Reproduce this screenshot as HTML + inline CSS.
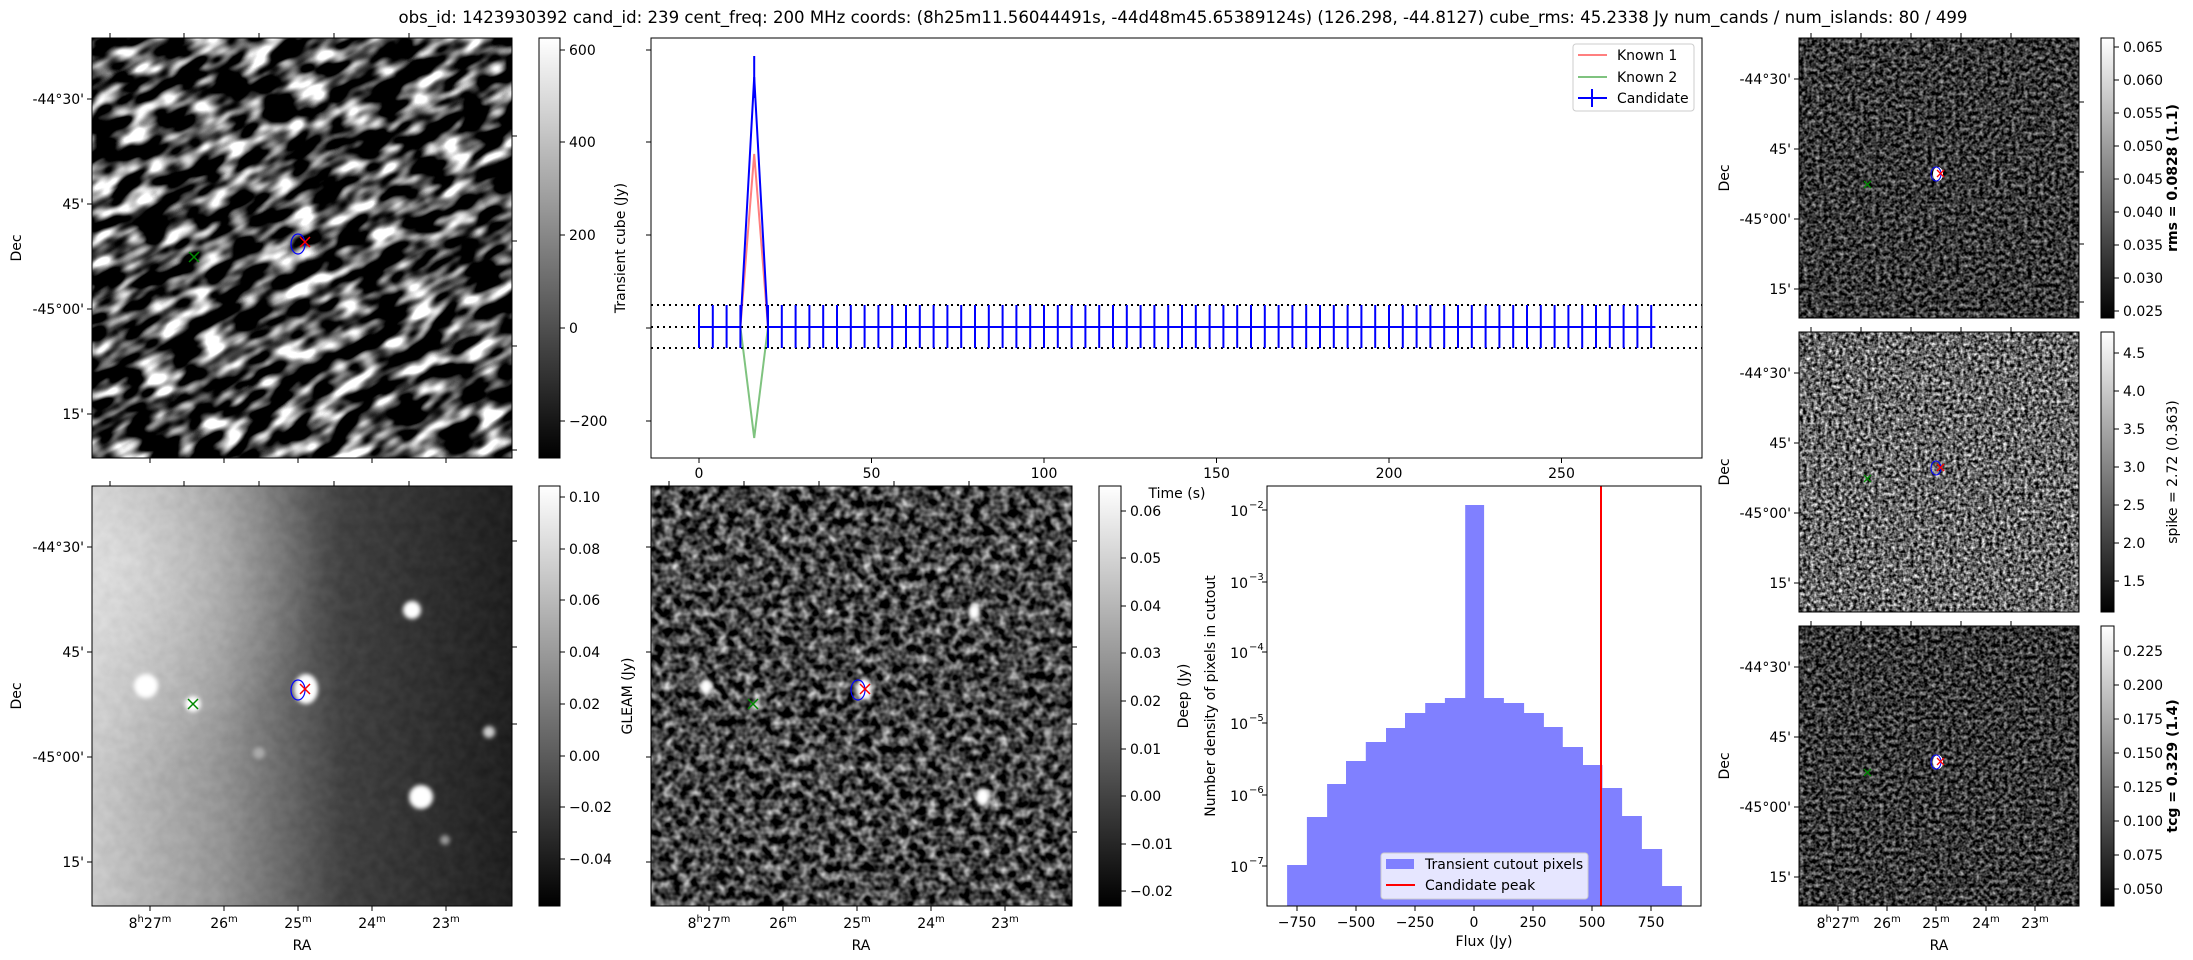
<!DOCTYPE html>
<html><head><meta charset="utf-8"><style>html,body{margin:0;padding:0;background:#fff}svg{display:block}text{font-family:"DejaVu Sans","Liberation Sans",sans-serif;fill:#000}</style></head>
<body>
<svg width="2193" height="960" viewBox="0 0 2193 960" xmlns="http://www.w3.org/2000/svg" font-size="14">
<defs>
<linearGradient id="cb" x1="0" y1="0" x2="0" y2="1"><stop offset="0" stop-color="#fff"/><stop offset="1" stop-color="#000"/></linearGradient>
<filter id="fA" x="0" y="0" width="100%" height="100%" color-interpolation-filters="sRGB"><feTurbulence type="fractalNoise" baseFrequency="0.03 0.065" numOctaves="2" seed="4"/><feColorMatrix type="matrix" values="1 0 0 0 0 1 0 0 0 0 1 0 0 0 0 0 0 0 0 1"/><feComponentTransfer><feFuncR type="linear" slope="3.6" intercept="-1.55"/><feFuncG type="linear" slope="3.6" intercept="-1.55"/><feFuncB type="linear" slope="3.6" intercept="-1.55"/></feComponentTransfer></filter>
<filter id="fN" x="0" y="0" width="100%" height="100%" color-interpolation-filters="sRGB"><feTurbulence type="fractalNoise" baseFrequency="0.09" numOctaves="2" seed="7"/><feColorMatrix type="matrix" values="1 0 0 0 0 1 0 0 0 0 1 0 0 0 0 0 0 0 0 1"/></filter>
<filter id="fD" x="0" y="0" width="100%" height="100%" color-interpolation-filters="sRGB"><feTurbulence type="fractalNoise" baseFrequency="0.11" numOctaves="2" seed="7"/><feColorMatrix type="matrix" values="1 0 0 0 0 1 0 0 0 0 1 0 0 0 0 0 0 0 0 1"/><feComponentTransfer><feFuncR type="linear" slope="1.5" intercept="-0.48"/><feFuncG type="linear" slope="1.5" intercept="-0.48"/><feFuncB type="linear" slope="1.5" intercept="-0.48"/></feComponentTransfer></filter>
<filter id="fR1" x="0" y="0" width="100%" height="100%" color-interpolation-filters="sRGB"><feTurbulence type="fractalNoise" baseFrequency="0.25" numOctaves="2" seed="11"/><feColorMatrix type="matrix" values="1 0 0 0 0 1 0 0 0 0 1 0 0 0 0 0 0 0 0 1"/><feComponentTransfer><feFuncR type="linear" slope="1.2" intercept="-0.38"/><feFuncG type="linear" slope="1.2" intercept="-0.38"/><feFuncB type="linear" slope="1.2" intercept="-0.38"/></feComponentTransfer></filter>
<filter id="fR2" x="0" y="0" width="100%" height="100%" color-interpolation-filters="sRGB"><feTurbulence type="fractalNoise" baseFrequency="0.28" numOctaves="2" seed="13"/><feColorMatrix type="matrix" values="1 0 0 0 0 1 0 0 0 0 1 0 0 0 0 0 0 0 0 1"/><feComponentTransfer><feFuncR type="linear" slope="1.7" intercept="-0.45"/><feFuncG type="linear" slope="1.7" intercept="-0.45"/><feFuncB type="linear" slope="1.7" intercept="-0.45"/></feComponentTransfer></filter>
<filter id="blur"><feGaussianBlur stdDeviation="2"/></filter>
<linearGradient id="gl" x1="0" y1="0" x2="1" y2="0"><stop offset="0" stop-color="#d0d0d0"/><stop offset="0.3" stop-color="#989898"/><stop offset="0.6" stop-color="#3c3c3c"/><stop offset="1" stop-color="#181818"/></linearGradient>
<radialGradient id="gr" cx="0.05" cy="0.2" r="0.5"><stop offset="0" stop-color="#fff" stop-opacity="0.5"/><stop offset="1" stop-color="#fff" stop-opacity="0"/></radialGradient>
<clipPath id="cA"><rect x="92" y="38" width="420" height="420"/></clipPath>
</defs>

<text x="1183" y="23" font-size="17" text-anchor="middle" textLength="1569" lengthAdjust="spacingAndGlyphs">obs_id: 1423930392 cand_id: 239 cent_freq: 200 MHz coords: (8h25m11.56044491s, -44d48m45.65389124s) (126.298, -44.8127) cube_rms: 45.2338 Jy num_cands / num_islands: 80 / 499</text>

<g clip-path="url(#cA)"><rect x="92" y="38" width="420" height="420" fill="#333"/><rect x="-150" y="-200" width="900" height="900" filter="url(#fA)" transform="rotate(-28 302 248)"/></g>
<rect x="92" y="38" width="420" height="420" fill="none" stroke="#000"/>
<ellipse cx="298" cy="244" rx="7" ry="10" fill="none" stroke="#00f" stroke-width="1.2"/>
<g stroke="#f00" stroke-width="1.5"><line x1="300" y1="237" x2="310" y2="247"/><line x1="310" y1="237" x2="300" y2="247"/></g>
<g stroke="#080" stroke-width="1.5"><line x1="189" y1="252" x2="199" y2="262"/><line x1="199" y1="252" x2="189" y2="262"/></g>
<g stroke="#000"><line x1="110" y1="38" x2="110" y2="33"/><line x1="184" y1="38" x2="184" y2="33"/><line x1="259" y1="38" x2="259" y2="33"/><line x1="334" y1="38" x2="334" y2="33"/><line x1="409" y1="38" x2="409" y2="33"/>
<line x1="92" y1="99" x2="87" y2="99"/><line x1="92" y1="204" x2="87" y2="204"/><line x1="92" y1="309" x2="87" y2="309"/><line x1="92" y1="414" x2="87" y2="414"/>
<line x1="512" y1="136" x2="517" y2="136"/><line x1="512" y1="241" x2="517" y2="241"/><line x1="512" y1="346" x2="517" y2="346"/><line x1="512" y1="450" x2="517" y2="450"/>
<line x1="150" y1="458" x2="150" y2="463"/><line x1="224" y1="458" x2="224" y2="463"/><line x1="298" y1="458" x2="298" y2="463"/><line x1="372" y1="458" x2="372" y2="463"/><line x1="446" y1="458" x2="446" y2="463"/></g>
<g text-anchor="end"><text x="84" y="104">-44°30'</text><text x="84" y="209">45'</text><text x="84" y="314">-45°00'</text><text x="84" y="419">15'</text></g>
<text transform="translate(21 248) rotate(-90)" text-anchor="middle">Dec</text>

<rect x="539" y="38" width="21" height="420" fill="url(#cb)" stroke="#000"/>
<g stroke="#000"><line x1="560" y1="50" x2="565" y2="50"/><line x1="560" y1="142" x2="565" y2="142"/><line x1="560" y1="235" x2="565" y2="235"/><line x1="560" y1="328" x2="565" y2="328"/><line x1="560" y1="421" x2="565" y2="421"/></g>
<text x="569" y="55">600</text><text x="569" y="147">400</text><text x="569" y="240">200</text><text x="569" y="333">0</text><text x="569" y="426">−200</text>

<rect x="651" y="38" width="1051" height="420" fill="none" stroke="#000"/>
<g stroke="#000"><line x1="651" y1="50" x2="646" y2="50"/><line x1="651" y1="142" x2="646" y2="142"/><line x1="651" y1="235" x2="646" y2="235"/><line x1="651" y1="328" x2="646" y2="328"/><line x1="651" y1="421" x2="646" y2="421"/>
<line x1="699" y1="458" x2="699" y2="463"/><line x1="871.5" y1="458" x2="871.5" y2="463"/><line x1="1044" y1="458" x2="1044" y2="463"/><line x1="1216.5" y1="458" x2="1216.5" y2="463"/><line x1="1389" y1="458" x2="1389" y2="463"/><line x1="1561.5" y1="458" x2="1561.5" y2="463"/></g>
<g text-anchor="middle"><text x="699" y="478">0</text><text x="871.5" y="478">50</text><text x="1044" y="478">100</text><text x="1216.5" y="478">150</text><text x="1389" y="478">200</text><text x="1561.5" y="478">250</text></g>
<text x="1177" y="498" text-anchor="middle">Time (s)</text>
<text transform="translate(625 248) rotate(-90)" text-anchor="middle">Transient cube (Jy)</text>
<g stroke="#000" stroke-width="2" stroke-dasharray="2 4"><line x1="651" y1="305" x2="1702" y2="305"/><line x1="651" y1="327" x2="1702" y2="327"/><line x1="651" y1="348" x2="1702" y2="348"/></g>
<polyline points="699,327 740.4,327 754.2,154 768,327 1655.4,327" fill="none" stroke="#f00" stroke-opacity="0.5" stroke-width="2"/>
<polyline points="699,327 740.4,327 754.2,438 768,327 1655.4,327" fill="none" stroke="#080" stroke-opacity="0.5" stroke-width="2"/>
<polyline points="699,327 740.4,327 754.2,77 768,327 1655.4,327" fill="none" stroke="#00f" stroke-width="2"/>
<path stroke="#00f" stroke-width="2" d="M699 305V348M712.8 305V348M726.6 305V348M740.4 305V348M754.2 56V98M768 305V348M781.8 305V348M795.6 305V348M809.4 305V348M823.2 305V348M837 305V348M850.8 305V348M864.6 305V348M878.4 305V348M892.2 305V348M906 305V348M919.8 305V348M933.6 305V348M947.4 305V348M961.2 305V348M975 305V348M988.8 305V348M1002.6 305V348M1016.4 305V348M1030.2 305V348M1044 305V348M1057.8 305V348M1071.6 305V348M1085.4 305V348M1099.2 305V348M1113 305V348M1126.8 305V348M1140.6 305V348M1154.4 305V348M1168.2 305V348M1182 305V348M1195.8 305V348M1209.6 305V348M1223.4 305V348M1237.2 305V348M1251 305V348M1264.8 305V348M1278.6 305V348M1292.4 305V348M1306.2 305V348M1320 305V348M1333.8 305V348M1347.6 305V348M1361.4 305V348M1375.2 305V348M1389 305V348M1402.8 305V348M1416.6 305V348M1430.4 305V348M1444.2 305V348M1458 305V348M1471.8 305V348M1485.6 305V348M1499.4 305V348M1513.2 305V348M1527 305V348M1540.8 305V348M1554.6 305V348M1568.4 305V348M1582.2 305V348M1596 305V348M1609.8 305V348M1623.6 305V348M1637.4 305V348M1651.2 305V348"/>
<rect x="1573" y="44" width="121" height="67" rx="3" fill="#fff" fill-opacity="0.8" stroke="#ccc"/>
<line x1="1578" y1="55" x2="1607" y2="55" stroke="#f00" stroke-opacity="0.5" stroke-width="2"/>
<line x1="1578" y1="77" x2="1607" y2="77" stroke="#080" stroke-opacity="0.5" stroke-width="2"/>
<line x1="1578" y1="98" x2="1607" y2="98" stroke="#00f" stroke-width="2"/><line x1="1592" y1="89" x2="1592" y2="107" stroke="#00f" stroke-width="2"/>
<text x="1617" y="60">Known 1</text><text x="1617" y="82">Known 2</text><text x="1617" y="103">Candidate</text>

<rect x="92" y="486" width="420" height="420" fill="url(#gl)"/>
<rect x="92" y="486" width="420" height="420" fill="url(#gr)"/>
<rect x="92" y="486" width="420" height="420" filter="url(#fN)" opacity="0.07"/>
<g fill="#fff" filter="url(#blur)"><circle cx="146" cy="686" r="12"/><circle cx="193" cy="704" r="8"/><ellipse cx="306" cy="689" rx="12" ry="15"/><circle cx="412" cy="610" r="9"/><circle cx="421" cy="797" r="12"/><circle cx="489" cy="732" r="6" fill="#ccc"/><circle cx="259" cy="753" r="6" fill="#aaa"/><circle cx="445" cy="840" r="5" fill="#999"/></g>
<ellipse cx="298" cy="690" rx="7" ry="10" fill="none" stroke="#00f" stroke-width="1.2"/>
<g stroke="#f00" stroke-width="1.5"><line x1="300" y1="684" x2="310" y2="694"/><line x1="310" y1="684" x2="300" y2="694"/></g>
<g stroke="#080" stroke-width="1.5"><line x1="188" y1="699" x2="198" y2="709"/><line x1="198" y1="699" x2="188" y2="709"/></g>
<rect x="92" y="486" width="420" height="420" fill="none" stroke="#000"/>
<g stroke="#000"><line x1="110" y1="486" x2="110" y2="481"/><line x1="184" y1="486" x2="184" y2="481"/><line x1="259" y1="486" x2="259" y2="481"/><line x1="334" y1="486" x2="334" y2="481"/><line x1="409" y1="486" x2="409" y2="481"/>
<line x1="92" y1="547" x2="87" y2="547"/><line x1="92" y1="652" x2="87" y2="652"/><line x1="92" y1="757" x2="87" y2="757"/><line x1="92" y1="862" x2="87" y2="862"/>
<line x1="512" y1="541" x2="517" y2="541"/><line x1="512" y1="647" x2="517" y2="647"/><line x1="512" y1="724" x2="517" y2="724"/><line x1="512" y1="832" x2="517" y2="832"/>
<line x1="150" y1="906" x2="150" y2="911"/><line x1="224" y1="906" x2="224" y2="911"/><line x1="298" y1="906" x2="298" y2="911"/><line x1="372" y1="906" x2="372" y2="911"/><line x1="446" y1="906" x2="446" y2="911"/></g>
<g text-anchor="end"><text x="84" y="552">-44°30'</text><text x="84" y="657">45'</text><text x="84" y="762">-45°00'</text><text x="84" y="867">15'</text></g>
<text transform="translate(21 696) rotate(-90)" text-anchor="middle">Dec</text>
<g text-anchor="middle"><text x="150" y="928">8<tspan font-size="10" dy="-6">h</tspan><tspan dy="6">27</tspan><tspan font-size="10" dy="-6">m</tspan></text><text x="224" y="928">26<tspan font-size="10" dy="-6">m</tspan></text><text x="298" y="928">25<tspan font-size="10" dy="-6">m</tspan></text><text x="372" y="928">24<tspan font-size="10" dy="-6">m</tspan></text><text x="446" y="928">23<tspan font-size="10" dy="-6">m</tspan></text></g>
<text x="302" y="950" text-anchor="middle">RA</text>
<rect x="539" y="486" width="21" height="420" fill="url(#cb)" stroke="#000"/>
<g stroke="#000"><line x1="560" y1="497" x2="565" y2="497"/><line x1="560" y1="549" x2="565" y2="549"/><line x1="560" y1="600" x2="565" y2="600"/><line x1="560" y1="652" x2="565" y2="652"/><line x1="560" y1="704" x2="565" y2="704"/><line x1="560" y1="756" x2="565" y2="756"/><line x1="560" y1="807" x2="565" y2="807"/><line x1="560" y1="859" x2="565" y2="859"/></g>
<text x="569" y="502">0.10</text><text x="569" y="554">0.08</text><text x="569" y="605">0.06</text><text x="569" y="657">0.04</text><text x="569" y="709">0.02</text><text x="569" y="761">0.00</text><text x="569" y="812">−0.02</text><text x="569" y="864">−0.04</text>
<text transform="translate(632 696) rotate(-90)" text-anchor="middle">GLEAM (Jy)</text>

<rect x="651" y="486" width="421" height="420" fill="#333"/>
<rect x="651" y="486" width="421" height="420" filter="url(#fD)"/>
<g fill="#fff" filter="url(#blur)"><ellipse cx="706" cy="687" rx="6" ry="8"/><circle cx="756" cy="706" r="5" fill="#ddd"/><ellipse cx="864" cy="689" rx="8" ry="11"/><ellipse cx="974" cy="612" rx="6" ry="8"/><ellipse cx="983" cy="797" rx="7" ry="9"/><circle cx="1048" cy="733" r="4" fill="#ccc"/><circle cx="812" cy="752" r="4" fill="#bbb"/></g>
<ellipse cx="858" cy="690" rx="7" ry="10" fill="none" stroke="#00f" stroke-width="1.2"/>
<g stroke="#f00" stroke-width="1.5"><line x1="860" y1="684" x2="870" y2="694"/><line x1="870" y1="684" x2="860" y2="694"/></g>
<g stroke="#080" stroke-width="1.5"><line x1="748" y1="699" x2="758" y2="709"/><line x1="758" y1="699" x2="748" y2="709"/></g>
<rect x="651" y="486" width="421" height="420" fill="none" stroke="#000"/>
<g stroke="#000"><line x1="669" y1="486" x2="669" y2="481"/><line x1="744" y1="486" x2="744" y2="481"/><line x1="819" y1="486" x2="819" y2="481"/><line x1="894" y1="486" x2="894" y2="481"/><line x1="969" y1="486" x2="969" y2="481"/>
<line x1="651" y1="547" x2="646" y2="547"/><line x1="651" y1="652" x2="646" y2="652"/><line x1="651" y1="757" x2="646" y2="757"/><line x1="651" y1="862" x2="646" y2="862"/>
<line x1="1072" y1="541" x2="1077" y2="541"/><line x1="1072" y1="647" x2="1077" y2="647"/><line x1="1072" y1="724" x2="1077" y2="724"/><line x1="1072" y1="832" x2="1077" y2="832"/>
<line x1="709" y1="906" x2="709" y2="911"/><line x1="783" y1="906" x2="783" y2="911"/><line x1="857" y1="906" x2="857" y2="911"/><line x1="931" y1="906" x2="931" y2="911"/><line x1="1005" y1="906" x2="1005" y2="911"/></g>
<g text-anchor="middle"><text x="709" y="928">8<tspan font-size="10" dy="-6">h</tspan><tspan dy="6">27</tspan><tspan font-size="10" dy="-6">m</tspan></text><text x="783" y="928">26<tspan font-size="10" dy="-6">m</tspan></text><text x="857" y="928">25<tspan font-size="10" dy="-6">m</tspan></text><text x="931" y="928">24<tspan font-size="10" dy="-6">m</tspan></text><text x="1005" y="928">23<tspan font-size="10" dy="-6">m</tspan></text></g>
<text x="861" y="950" text-anchor="middle">RA</text>
<rect x="1099" y="486" width="22" height="420" fill="url(#cb)" stroke="#000"/>
<g stroke="#000"><line x1="1121" y1="511" x2="1126" y2="511"/><line x1="1121" y1="558" x2="1126" y2="558"/><line x1="1121" y1="606" x2="1126" y2="606"/><line x1="1121" y1="653" x2="1126" y2="653"/><line x1="1121" y1="701" x2="1126" y2="701"/><line x1="1121" y1="749" x2="1126" y2="749"/><line x1="1121" y1="796" x2="1126" y2="796"/><line x1="1121" y1="844" x2="1126" y2="844"/><line x1="1121" y1="891" x2="1126" y2="891"/></g>
<text x="1130" y="516">0.06</text><text x="1130" y="563">0.05</text><text x="1130" y="611">0.04</text><text x="1130" y="658">0.03</text><text x="1130" y="706">0.02</text><text x="1130" y="754">0.01</text><text x="1130" y="801">0.00</text><text x="1130" y="849">−0.01</text><text x="1130" y="896">−0.02</text>
<text transform="translate(1188 696) rotate(-90)" text-anchor="middle">Deep (Jy)</text>

<path fill="#8080ff" d="M1287.1 906V865H1306.9V817H1327.1V784H1346V761H1365.8V742H1386V728H1405V713H1425.2V703H1444.9V698H1465.2V505H1484.1V698H1503.9V703H1524.1V713H1543.9V727H1562.8V747H1583V765H1602.4V788H1622.1V816H1641.9V849H1662.1V886H1681.9V906Z"/>
<line x1="1601" y1="486" x2="1601" y2="906" stroke="#f00" stroke-width="2"/>
<rect x="1267" y="486" width="434" height="420" fill="none" stroke="#000"/>
<g stroke="#000"><line x1="1297" y1="906" x2="1297" y2="911"/><line x1="1356" y1="906" x2="1356" y2="911"/><line x1="1415" y1="906" x2="1415" y2="911"/><line x1="1474" y1="906" x2="1474" y2="911"/><line x1="1533" y1="906" x2="1533" y2="911"/><line x1="1592" y1="906" x2="1592" y2="911"/><line x1="1651" y1="906" x2="1651" y2="911"/>
<line x1="1267" y1="510" x2="1262" y2="510"/><line x1="1267" y1="582" x2="1262" y2="582"/><line x1="1267" y1="652" x2="1262" y2="652"/><line x1="1267" y1="723" x2="1262" y2="723"/><line x1="1267" y1="795" x2="1262" y2="795"/><line x1="1267" y1="866" x2="1262" y2="866"/></g>
<g text-anchor="middle"><text x="1297" y="927">−750</text><text x="1356" y="927">−500</text><text x="1415" y="927">−250</text><text x="1474" y="927">0</text><text x="1533" y="927">250</text><text x="1592" y="927">500</text><text x="1651" y="927">750</text></g>
<text x="1484" y="946" text-anchor="middle">Flux (Jy)</text>
<g text-anchor="end"><text x="1248" y="516">10</text><text x="1248" y="588">10</text><text x="1248" y="658">10</text><text x="1248" y="729">10</text><text x="1248" y="801">10</text><text x="1248" y="872">10</text></g>
<g font-size="10"><text x="1249" y="508">−2</text><text x="1249" y="580">−3</text><text x="1249" y="650">−4</text><text x="1249" y="721">−5</text><text x="1249" y="793">−6</text><text x="1249" y="864">−7</text></g>
<text transform="translate(1215 696) rotate(-90)" text-anchor="middle">Number density of pixels in cutout</text>
<rect x="1381" y="853" width="207" height="46" rx="3" fill="#fff" fill-opacity="0.8" stroke="#ccc"/>
<rect x="1386" y="859" width="28" height="10" fill="#8080ff"/>
<line x1="1386" y1="885" x2="1415" y2="885" stroke="#f00" stroke-width="2"/>
<text x="1425" y="869">Transient cutout pixels</text><text x="1425" y="890">Candidate peak</text>

<g>
<rect x="1799" y="38" width="280" height="280" fill="#2a2a2a"/><rect x="1799" y="38" width="280" height="280" filter="url(#fR1)"/>
<rect x="1799" y="332" width="280" height="280" fill="#555"/><rect x="1799" y="332" width="280" height="280" filter="url(#fR2)"/>
<rect x="1799" y="626" width="280" height="280" fill="#2a2a2a"/><rect x="1799" y="626" width="280" height="280" filter="url(#fR1)"/>
<g fill="#fff"><ellipse cx="1938" cy="174" rx="5" ry="7"/><ellipse cx="1938" cy="762" rx="5" ry="7"/></g>
<g fill="none" stroke="#00f"><ellipse cx="1936" cy="174" rx="5" ry="7"/><ellipse cx="1936" cy="468" rx="5" ry="7"/><ellipse cx="1936" cy="762" rx="5" ry="7"/></g>
<g stroke="#f00" stroke-width="1.3"><path d="M1937 170l7 7M1944 170l-7 7M1937 464l7 7M1944 464l-7 7M1937 758l7 7M1944 758l-7 7"/></g>
<g stroke="#080" stroke-width="1.3"><path d="M1864 181l7 7M1871 181l-7 7M1864 475l7 7M1871 475l-7 7M1864 769l7 7M1871 769l-7 7"/></g>
<g fill="none" stroke="#000"><rect x="1799" y="38" width="280" height="280"/><rect x="1799" y="332" width="280" height="280"/><rect x="1799" y="626" width="280" height="280"/></g>
<g stroke="#000"><path d="M1799 79h-5M1799 149h-5M1799 219h-5M1799 289h-5M1799 373h-5M1799 443h-5M1799 513h-5M1799 583h-5M1799 667h-5M1799 737h-5M1799 807h-5M1799 877h-5M2079 102h5M2079 172h5M2079 244h5M2079 302h5M1811 38v-5M1861 38v-5M1911 38v-5M1961 38v-5M2011 38v-5M1811 332v-5M1861 332v-5M1911 332v-5M1961 332v-5M2011 332v-5M1811 626v-5M1861 626v-5M1911 626v-5M1961 626v-5M2011 626v-5M1838 906v5M1887 906v5M1936 906v5M1986 906v5M2035 906v5"/></g>
<g text-anchor="end"><text x="1791" y="84">-44°30'</text><text x="1791" y="154">45'</text><text x="1791" y="224">-45°00'</text><text x="1791" y="294">15'</text><text x="1791" y="378">-44°30'</text><text x="1791" y="448">45'</text><text x="1791" y="518">-45°00'</text><text x="1791" y="588">15'</text><text x="1791" y="672">-44°30'</text><text x="1791" y="742">45'</text><text x="1791" y="812">-45°00'</text><text x="1791" y="882">15'</text></g>
<text transform="translate(1729 178) rotate(-90)" text-anchor="middle">Dec</text><text transform="translate(1729 472) rotate(-90)" text-anchor="middle">Dec</text><text transform="translate(1729 766) rotate(-90)" text-anchor="middle">Dec</text>
<g text-anchor="middle"><text x="1838" y="928">8<tspan font-size="10" dy="-6">h</tspan><tspan dy="6">27</tspan><tspan font-size="10" dy="-6">m</tspan></text><text x="1887" y="928">26<tspan font-size="10" dy="-6">m</tspan></text><text x="1936" y="928">25<tspan font-size="10" dy="-6">m</tspan></text><text x="1986" y="928">24<tspan font-size="10" dy="-6">m</tspan></text><text x="2035" y="928">23<tspan font-size="10" dy="-6">m</tspan></text></g>
<text x="1939" y="950" text-anchor="middle">RA</text>
</g>
<g stroke="#000"><rect x="2101" y="38" width="13" height="280" fill="url(#cb)"/><rect x="2101" y="332" width="13" height="280" fill="url(#cb)"/><rect x="2101" y="626" width="13" height="280" fill="url(#cb)"/>
<path d="M2114 47h5M2114 80h5M2114 113h5M2114 146h5M2114 179h5M2114 212h5M2114 245h5M2114 278h5M2114 311h5M2114 353h5M2114 391h5M2114 429h5M2114 467h5M2114 505h5M2114 543h5M2114 581h5M2114 651h5M2114 685h5M2114 719h5M2114 753h5M2114 787h5M2114 821h5M2114 855h5M2114 889h5"/></g>
<g><text x="2123" y="52">0.065</text><text x="2123" y="85">0.060</text><text x="2123" y="118">0.055</text><text x="2123" y="151">0.050</text><text x="2123" y="184">0.045</text><text x="2123" y="217">0.040</text><text x="2123" y="250">0.035</text><text x="2123" y="283">0.030</text><text x="2123" y="316">0.025</text>
<text x="2123" y="358">4.5</text><text x="2123" y="396">4.0</text><text x="2123" y="434">3.5</text><text x="2123" y="472">3.0</text><text x="2123" y="510">2.5</text><text x="2123" y="548">2.0</text><text x="2123" y="586">1.5</text>
<text x="2123" y="656">0.225</text><text x="2123" y="690">0.200</text><text x="2123" y="724">0.175</text><text x="2123" y="758">0.150</text><text x="2123" y="792">0.125</text><text x="2123" y="826">0.100</text><text x="2123" y="860">0.075</text><text x="2123" y="894">0.050</text></g>
<text transform="translate(2177 178) rotate(-90)" text-anchor="middle" font-weight="bold">rms = 0.0828 (1.1)</text>
<text transform="translate(2177 472) rotate(-90)" text-anchor="middle">spike = 2.72 (0.363)</text>
<text transform="translate(2177 766) rotate(-90)" text-anchor="middle" font-weight="bold">tcg = 0.329 (1.4)</text>
</svg>
</body></html>
